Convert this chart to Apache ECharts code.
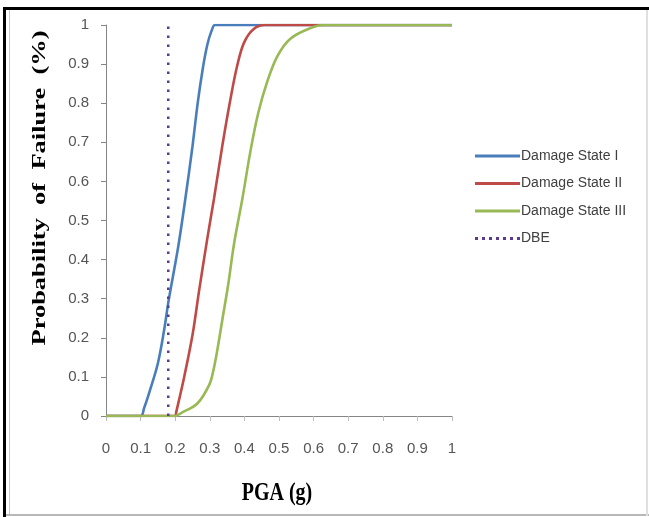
<!DOCTYPE html>
<html>
<head>
<meta charset="utf-8">
<script src="https://cdn.jsdelivr.net/npm/echarts@6/dist/echarts.min.js"></script>
<style>
html,body{margin:0;padding:0;background:#fff;}
#chart{width:649px;height:517px;}
</style>
</head>
<body>
<div id="chart"></div>
<script>
// ---- data ----
var ds1X = [0, 0.10, 0.11, 0.125, 0.15, 0.168, 0.18, 0.19, 0.21, 0.23, 0.25, 0.265, 0.28, 0.293, 0.305, 0.315, 0.35, 1.0];
var ds1Y = [0, 0, 0.02, 0.06, 0.135, 0.22, 0.29, 0.34, 0.44, 0.56, 0.69, 0.80, 0.89, 0.95, 0.985, 1, 1, 1];

var ds2X = [0, 0.2, 0.203, 0.226, 0.25, 0.269, 0.293, 0.312, 0.336, 0.36, 0.379, 0.399, 0.427, 0.46, 1.0];
var ds2Y = [0, 0, 0.01, 0.1, 0.207, 0.32, 0.455, 0.555, 0.69, 0.812, 0.895, 0.955, 0.99, 1, 1];

var ds3X = [0, 0.2, 0.216, 0.264, 0.298, 0.31, 0.322, 0.336, 0.353, 0.37, 0.394, 0.418, 0.44, 0.466, 0.495, 0.533, 0.591, 0.63, 1.0];
var ds3Y = [0, 0, 0.007, 0.032, 0.079, 0.115, 0.17, 0.245, 0.335, 0.44, 0.555, 0.68, 0.775, 0.855, 0.92, 0.965, 0.992, 1, 1];

var dbeX = [0.18, 0.18];
var dbeY = [0, 1];

var seriesNames = ['Damage State I', 'Damage State II', 'Damage State III', 'DBE'];
var xTitle = 'PGA (g)';
var yTitle = 'Probability  of  Failure  (%)';

function pairs(xs, ys) { return xs.map(function (x, i) { return [x, ys[i]]; }); }

var tickFont = "'Liberation Sans', Arial, sans-serif";
var chart = echarts.init(document.getElementById('chart'), null, {renderer: 'canvas'});

// measure y title width for stretching
var cv = document.createElement('canvas').getContext('2d');
cv.font = "bold 18px 'Liberation Serif', serif";
var yTitleW = cv.measureText(yTitle).width;
var yStretch = 315 / yTitleW;

var colors = ['#4A7EBB', '#BE4B48', '#98B954', '#5B3C8C'];
var dotIcon = 'path://M0,0h3v3h-3z M7,0h3v3h-3z M14,0h3v3h-3z M21,0h3v3h-3z M28,0h3v3h-3z M35,0h3v3h-3z M42,0h3v3h-3z';

chart.setOption({
  animation: false,
  backgroundColor: '#ffffff',
  grid: {left: 106, right: 197, top: 25, bottom: 101, containLabel: false},
  xAxis: {
    type: 'value', min: 0, max: 1, interval: 0.1,
    axisLine: {lineStyle: {color: '#868686', width: 1}},
    axisTick: {show: true, length: 5, lineStyle: {color: '#bdbdbd'}},
    splitLine: {show: false},
    axisLabel: {margin: 25, color: '#555555', fontSize: 15, fontFamily: tickFont}
  },
  yAxis: {
    type: 'value', min: 0, max: 1, interval: 0.1,
    axisLine: {show: true, lineStyle: {color: '#868686', width: 1}},
    axisTick: {show: true, length: 5, lineStyle: {color: '#868686'}},
    splitLine: {show: false},
    axisLabel: {margin: 17, color: '#555555', fontSize: 15, fontFamily: tickFont}
  },
  legend: {
    orient: 'vertical', left: 470, top: 143,
    itemWidth: 45, itemHeight: 3, itemGap: 11.5,
    textStyle: {fontSize: 14, color: '#404040', fontFamily: tickFont, padding: [0, 0, 0, -4], lineHeight: 16},
    data: [
      {name: seriesNames[0], icon: 'rect'},
      {name: seriesNames[1], icon: 'rect'},
      {name: seriesNames[2], icon: 'rect'},
      {name: seriesNames[3], icon: dotIcon}
    ]
  },
  series: [
    {name: seriesNames[0], type: 'line', data: pairs(ds1X, ds1Y), smooth: 0.35, symbol: 'none',
     color: colors[0], lineStyle: {width: 2.6, color: colors[0]}, z: 2},
    {name: seriesNames[1], type: 'line', data: pairs(ds2X, ds2Y), smooth: 0.35, symbol: 'none',
     color: colors[1], lineStyle: {width: 2.6, color: colors[1]}, z: 3},
    {name: seriesNames[2], type: 'line', data: pairs(ds3X, ds3Y), smooth: 0.35, symbol: 'none',
     color: colors[2], lineStyle: {width: 2.6, color: colors[2]}, z: 4},
    {name: seriesNames[3], type: 'line', data: pairs(dbeX, dbeY), symbol: 'none',
     color: colors[3], lineStyle: {width: 2.5, color: colors[3], type: [2.5, 6.5]}, z: 5}
  ],
  graphic: [
    {type: 'rect', shape: {x: 3, y: 7, width: 3, height: 510}, style: {fill: '#000'}, silent: true},
    {type: 'rect', shape: {x: 3, y: 7, width: 646, height: 3}, style: {fill: '#000'}, silent: true},
    {type: 'rect', shape: {x: 9, y: 10, width: 1, height: 506}, style: {fill: '#c8c8c8'}, silent: true},
    {type: 'rect', shape: {x: 6, y: 514, width: 643, height: 2}, style: {fill: '#b8b8b8'}, silent: true},
    {type: 'rect', shape: {x: 646, y: 10, width: 2, height: 506}, style: {fill: '#e0e0e0'}, silent: true},
    {type: 'text', x: 40, y: 188, rotation: Math.PI / 2, scaleX: yStretch, scaleY: 1.0,
     style: {text: yTitle, font: "bold 18px 'Liberation Serif', serif", fill: '#000',
             align: 'center', verticalAlign: 'middle'}, silent: true},
    {type: 'text', x: 277, y: 493, scaleY: 1.3,
     style: {text: xTitle, font: "bold 20px 'Liberation Serif', serif", fill: '#000',
             align: 'center', verticalAlign: 'middle'}, silent: true}
  ]
});
</script>
</body>
</html>
